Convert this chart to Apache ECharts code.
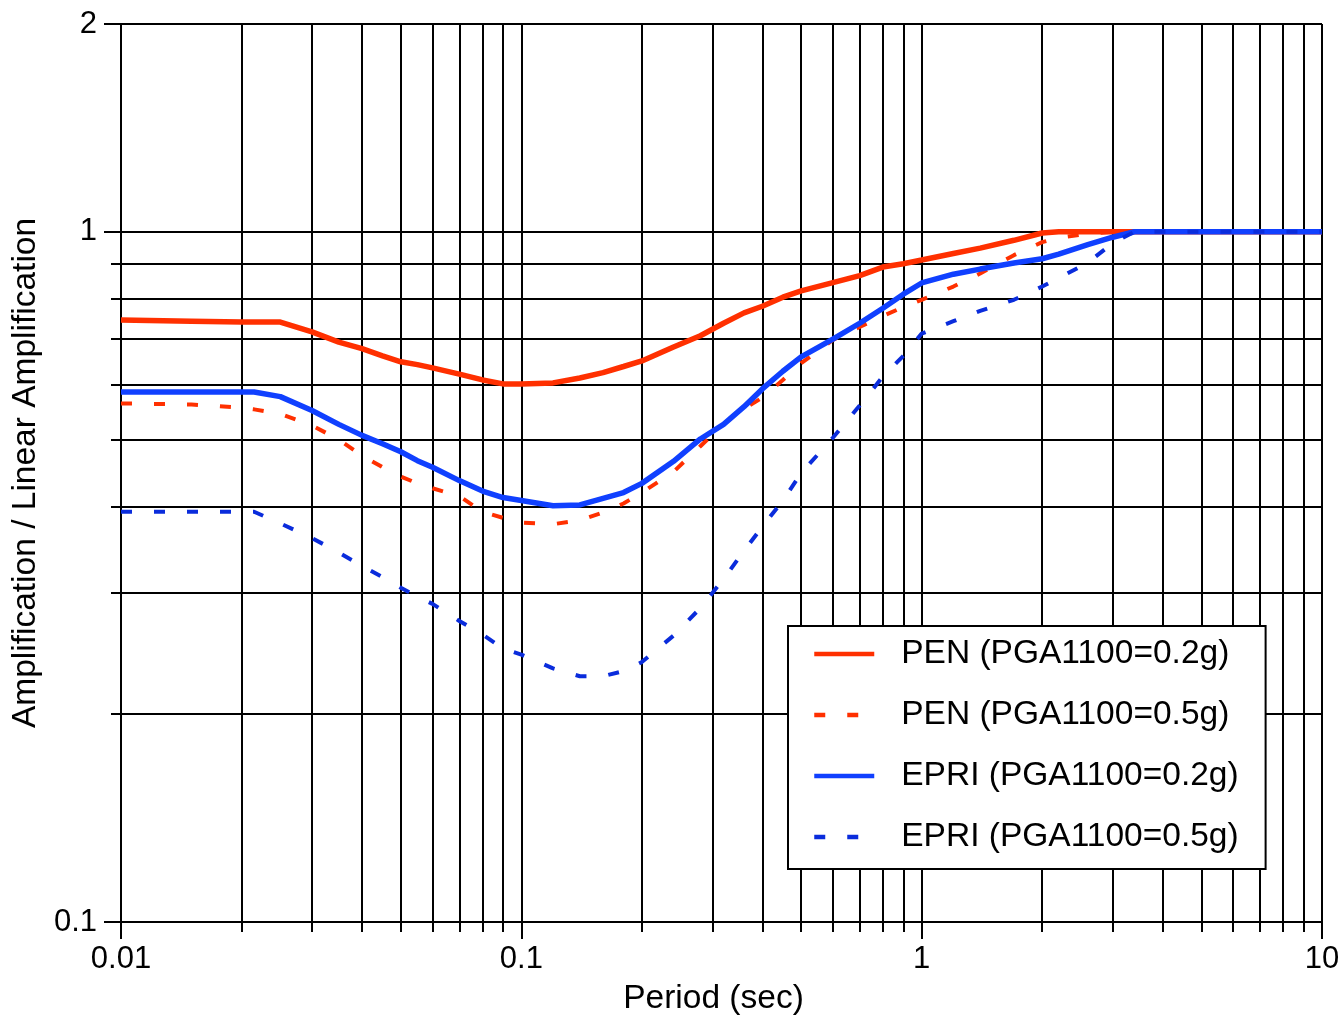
<!DOCTYPE html>
<html>
<head>
<meta charset="utf-8">
<script src="https://cdn.jsdelivr.net/npm/echarts@6/dist/echarts.min.js"></script>
<style>
  html, body { margin: 0; padding: 0; background: #fff; }
  #chart { width: 1344px; height: 1021px; }
</style>
</head>
<body>
<div id="chart"></div>
<script>
// period (sec), shared by all four curves
const periods = [0.01, 0.015, 0.02, 0.0215, 0.025, 0.03, 0.035, 0.04, 0.045, 0.05, 0.055, 0.06, 0.07, 0.08, 0.09,
  0.1, 0.12, 0.14, 0.16, 0.18, 0.2, 0.24, 0.28, 0.32, 0.36, 0.4, 0.45, 0.5, 0.6, 0.7, 0.8, 0.9,
  1, 1.2, 1.4, 1.7, 2, 2.2, 2.6, 3, 3.4, 4, 5, 7, 10]

// amplification / linear amplification
const penLow = [0.745, 0.742, 0.740, 0.740, 0.740, 0.716, 0.692, 0.677, 0.661, 0.648, 0.642, 0.635, 0.622, 0.610, 0.602,
  0.602, 0.604, 0.614, 0.625, 0.638, 0.650, 0.681, 0.707, 0.737, 0.763, 0.780, 0.804, 0.821, 0.844, 0.864, 0.889, 0.899,
  0.910, 0.930, 0.947, 0.972, 0.996, 1, 1, 1, 1, 1, 1, 1, 1]
const penHigh = [0.564, 0.562, 0.556, 0.553, 0.545, 0.524, 0.500, 0.474, 0.456, 0.442, 0.432, 0.425, 0.414, 0.393, 0.385,
  0.379, 0.377, 0.382, 0.392, 0.404, 0.419, 0.449, 0.489, 0.527, 0.554, 0.575, 0.610, 0.645, 0.697, 0.728, 0.755, 0.778,
  0.797, 0.833, 0.870, 0.925, 0.966, 0.980, 0.993, 1, 1, 1, 1, 1, 1]
const epriLow = [0.586, 0.586, 0.586, 0.586, 0.577, 0.551, 0.526, 0.507, 0.493, 0.480, 0.466, 0.456, 0.436, 0.421, 0.412,
  0.408, 0.401, 0.402, 0.411, 0.419, 0.432, 0.465, 0.501, 0.526, 0.558, 0.592, 0.628, 0.659, 0.699, 0.737, 0.775, 0.812,
  0.843, 0.868, 0.883, 0.901, 0.914, 0.928, 0.958, 0.982, 1, 1, 1, 1, 1]
const epriHigh = [0.393, 0.393, 0.393, 0.393, 0.378, 0.360, 0.343, 0.328, 0.316, 0.305, 0.296, 0.289, 0.273, 0.261, 0.249,
  0.244, 0.233, 0.227, 0.227, 0.231, 0.238, 0.260, 0.285, 0.314, 0.345, 0.374, 0.408, 0.447, 0.503, 0.560, 0.617, 0.661,
  0.712, 0.742, 0.768, 0.797, 0.833, 0.857, 0.902, 0.963, 1, 1, 1, 1, 1]

const seriesNames = ['PEN (PGA1100=0.2g)', 'PEN (PGA1100=0.5g)', 'EPRI (PGA1100=0.2g)', 'EPRI (PGA1100=0.5g)']
const yMinorTicks = [0.1, 0.2, 0.3, 0.4, 0.5, 0.6, 0.7, 0.8, 0.9, 1, 2]
const yLabels = [0.1, 1, 2]

const font = '"Liberation Sans", Arial, Helvetica, sans-serif'

function pairs(vals) {
  return periods.map((t, i) => [t, vals[i]])
}

const myChart = echarts.init(document.getElementById('chart'), null, { renderer: 'canvas' })

const option = {
  animation: false,
  backgroundColor: '#fff',
  textStyle: { fontFamily: font },
  grid: { left: 121, right: 22, top: 24, bottom: 96, containLabel: false },
  legend: {
    orient: 'vertical',
    left: 788,
    top: 626,
    padding: [10, 27, 14, 24],
    itemWidth: 60,
    itemHeight: 14,
    itemGap: 25,
    backgroundColor: '#fff',
    borderColor: '#000',
    borderWidth: 2,
    itemStyle: { opacity: 0 }, // 图例只画线，不画圆点
    lineStyle: { width: 4.5 },
    textStyle: { fontSize: 33.5, color: '#000', fontFamily: font, lineHeight: 36, padding: [0, 0, 0, 22] },
    data: seriesNames
  },
  xAxis: {
    type: 'log',
    logBase: 10,
    min: 0.01,
    max: 10,
    name: 'Period (sec)',
    nameLocation: 'middle',
    nameGap: 60,
    nameTextStyle: { fontSize: 33.5, color: '#000', fontFamily: font, padding: [0, 16, 0, 0] },
    axisLine: { show: true, lineStyle: { color: '#000', width: 2 } },
    axisTick: { show: true, length: 17, lineStyle: { color: '#000', width: 2 } },
    minorTick: { show: true, splitNumber: 9, length: 10, lineStyle: { color: '#000', width: 2 } },
    axisLabel: {
      fontSize: 31, color: '#000', margin: 22, fontFamily: font,
      formatter: function(v) { return String(+v.toPrecision(6)) }
    },
    splitLine: { show: true, lineStyle: { color: '#000', width: 2 } },
    minorSplitLine: { show: true, lineStyle: { color: '#000', width: 2 } }
  },
  yAxis: [{
    type: 'log',
    logBase: 10,
    min: 0.1,
    max: 2,
    axisLine: { show: true, lineStyle: { color: '#000', width: 2 } },
    axisTick: { show: true, length: 10, customValues: yMinorTicks, lineStyle: { color: '#000', width: 2 } },
    axisLabel: { show: false },
    splitLine: { show: true, lineStyle: { color: '#000', width: 2 } }
  }, {
    type: 'log',
    logBase: 10,
    min: 0.1,
    max: 2,
    position: 'left',
    name: 'Amplification / Linear Amplification',
    nameLocation: 'middle',
    nameGap: 76,
    nameTextStyle: { fontSize: 33.5, color: '#000', fontFamily: font },
    axisLine: { show: false },
    axisTick: { show: true, length: 17, customValues: yLabels, lineStyle: { color: '#000', width: 2 } },
    axisLabel: {
      fontSize: 31, color: '#000', margin: 24, fontFamily: font, customValues: yLabels,
      formatter: function(v) { return String(+v.toPrecision(6)) }
    },
    splitLine: { show: false }
  }],
  series: [{
    name: seriesNames[0],
    type: 'line',
    data: pairs(penLow),
    symbol: 'none',
    lineStyle: { color: '#ff3000', width: 5.5 },
    itemStyle: { color: '#ff3000' }
  }, {
    name: seriesNames[1],
    type: 'line',
    data: pairs(penHigh),
    symbol: 'none',
    lineStyle: { color: '#ff3000', width: 4, type: [11, 22] },
    itemStyle: { color: '#ff3000' }
  }, {
    name: seriesNames[2],
    type: 'line',
    data: pairs(epriLow),
    symbol: 'none',
    lineStyle: { color: '#1040ff', width: 5.5 },
    itemStyle: { color: '#1040ff' }
  }, {
    name: seriesNames[3],
    type: 'line',
    data: pairs(epriHigh),
    symbol: 'none',
    lineStyle: { color: '#0a2cdc', width: 4, type: [11, 22] },
    itemStyle: { color: '#0a2cdc' }
  }]
}

myChart.setOption(option)
window.addEventListener('resize', () => {
  myChart.resize()
})
</script>
</body>
</html>
